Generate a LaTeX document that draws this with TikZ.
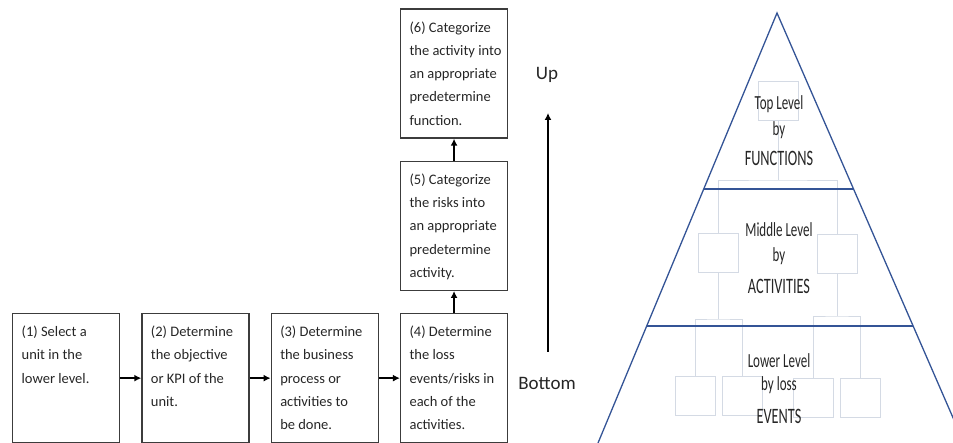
\documentclass[tikz,border=0pt]{standalone}
\usepackage{fontspec}
\setmainfont{Carlito}
\usepackage{graphicx}
\usetikzlibrary{arrows.meta,positioning,calc}

\definecolor{pyrblue}{RGB}{52,84,150}
\definecolor{orggray}{RGB}{212,218,228}
\definecolor{boxgray}{RGB}{60,60,60}

% text of a step box, set from the top
\newcommand{\steptext}[1]{\parbox[t][112pt][t]{96pt}{\raggedright\leftskip=3.5pt\rule{0pt}{14.5pt}#1}}
% narrow letters of the pyramid labels
\newcommand{\thin}[1]{\scalebox{0.65}[1]{#1}}

\tikzset{
  stepbox/.style={draw=boxgray, line width=1.3pt, inner xsep=5.5pt, inner ysep=8.5pt,
                  font=\fontsize{14.5pt}{23.3pt}\selectfont, text=black!85},
  flow/.style={line width=1.6pt, -{Latex[length=7pt,width=7pt]}},
  orgbox/.style={draw=orggray, line width=0.8pt, minimum width=40pt, minimum height=39pt, inner sep=0pt},
  orgline/.style={draw=orggray, line width=0.8pt},
  pyrline/.style={draw=pyrblue, line width=1.3pt},
  levelword/.style={anchor=base, inner sep=0pt, text=black!85, font=\fontsize{20pt}{24pt}\selectfont},
  levelcaps/.style={levelword, font=\fontsize{22pt}{26pt}\selectfont},
  sidelabel/.style={text=black!85, font=\fontsize{19pt}{22pt}\selectfont},
}

\begin{document}
\begin{tikzpicture}[x=1pt, y=-1pt]
    \useasboundingbox (0,0) rectangle (953,443);
    \clip (0,0) rectangle (953,443);

    % steps, bottom row
    \node[stepbox, anchor=north west] (s1) at (12,313)
        {\steptext{(1) Select a\\unit in the\\lower level.}};
    \node[stepbox, right=21pt of s1] (s2)
        {\steptext{(2) Determine\\the objective\\or KPI of the\\unit.}};
    \node[stepbox, right=21pt of s2] (s3)
        {\steptext{(3) Determine\\the business\\process or\\activities to\\be done.}};
    \node[stepbox, right=21pt of s3] (s4)
        {\steptext{(4) Determine\\the loss\\events/risks in\\each of the\\activities.}};
    % steps, going up
    \node[stepbox, above=22pt of s4] (s5)
        {\steptext{(5) Categorize\\the risks into\\an appropriate\\predetermine\\activity.}};
    \node[stepbox, above=22pt of s5] (s6)
        {\steptext{(6) Categorize\\the activity into\\an appropriate\\predetermine\\function.}};

    \draw[flow] (s1) -- (s2);
    \draw[flow] (s2) -- (s3);
    \draw[flow] (s3) -- (s4);
    \draw[flow] (s4) -- (s5);
    \draw[flow] (s5) -- (s6);

    % bottom to up
    \node[sidelabel] (up) at (547,75) {Up};
    \node[sidelabel] (bottom) at (547,383) {Bottom};
    \coordinate (upfoot) at (548,352);
    \coordinate (uphead) at (548,113);
    \draw[flow] (upfoot) -- (uphead);

    % org chart behind the pyramid
    \node[orgbox] (topfn) at (778,101) {};
    \node[orgbox] (act1) at (718,252.5) {};
    \node[orgbox] (act2) at (837,254) {};
    \node[orgbox] (ev1) at (695,395.5) {};
    \node[orgbox] (ev2) at (742,395.5) {};
    \node[orgbox] (ev3) at (813,397.5) {};
    \node[orgbox] (ev4) at (860,397.5) {};
    \coordinate (fnbar) at (778,180);
    \coordinate (act1bar) at (718,319);
    \coordinate (act2bar) at (837,316);
    \draw[orgline] (topfn) -- (fnbar);
    \draw[orgline] (act1.north) |- (fnbar) -| (act2.north);
    \draw[orgline] (act1) -- (act1bar);
    \draw[orgline] (ev1.north) |- (act1bar) -| (ev2.north);
    \draw[orgline] (act2) -- (act2bar);
    \draw[orgline] (ev3.north) |- (act2bar) -| (ev4.north);

    % pyramid
    \coordinate (apex) at (777,13);
    \coordinate (baseL) at (598,443);
    \coordinate (baseR) at (964,443);
    \draw[pyrline] (baseL) -- (apex) -- (baseR);
    \draw[pyrline] ($(apex)!0.409!(baseL)$) -- ($(apex)!0.409!(baseR)$);
    \draw[pyrline] ($(apex)!0.728!(baseL)$) -- ($(apex)!0.728!(baseR)$);

    \node[levelword] (toplvl) at (779,110) {\thin{Top Level}};
    \node[levelword] (topby) at (779,136) {\thin{by}};
    \node[levelcaps] (topname) at (779,166) {\thin{FUNCTIONS}};
    \node[levelword] (midlvl) at (779,237) {\thin{Middle Level}};
    \node[levelword] (midby) at (779,262) {\thin{by}};
    \node[levelcaps] (midname) at (779,294) {\thin{ACTIVITIES}};
    \node[levelword] (lowlvl) at (779,368) {\thin{Lower Level}};
    \node[levelword] (lowby) at (779,391) {\thin{by loss}};
    \node[levelcaps] (lowname) at (779,423) {\thin{EVENTS}};
\end{tikzpicture}
\end{document}
